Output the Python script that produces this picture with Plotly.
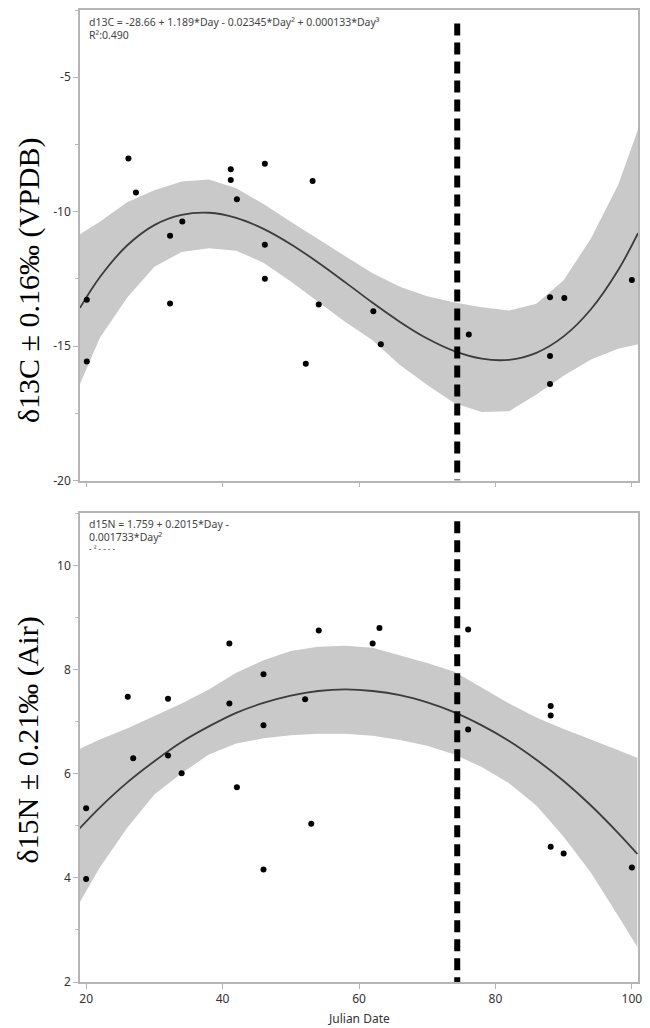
import plotly.graph_objects as go

# ---------------- data ----------------
# delta13C panel: observations
c13_day = [20.1, 20.1, 26.2, 27.3, 32.3, 32.3, 34.1, 41.2, 41.2, 42.1, 46.2, 46.2,
           46.2, 52.2, 53.2, 54.1, 62.1, 63.2, 76.1, 88.0, 90.1, 88.0, 88.0, 100.0]
c13_val = [-13.28, -15.57, -8.02, -9.29, -10.90, -13.42, -10.37, -8.42, -8.82, -9.54, -8.22, -11.23,
           -12.50, -15.66, -8.86, -13.45, -13.70, -14.93, -14.57, -13.18, -13.21, -15.37, -16.41, -12.54]

# delta13C panel: fitted curve and confidence band
c13_fit_day = [19.1, 22, 26, 30, 34, 38, 42, 46, 50, 54, 58, 62, 66, 70, 74, 78, 82, 86, 90, 94, 98, 100.9]
c13_fit = [-13.58, -12.44, -11.26, -10.50, -10.12, -10.04, -10.23, -10.64, -11.21, -11.89, -12.63,
           -13.39, -14.10, -14.72, -15.19, -15.47, -15.51, -15.25, -14.64, -13.63, -12.17, -10.80]
c13_upper = [-10.84, -10.38, -9.65, -9.20, -8.88, -8.80, -9.13, -9.72, -10.38, -11.03, -11.66,
             -12.29, -12.79, -13.15, -13.38, -13.56, -13.68, -13.43, -12.55, -11.00, -9.00, -6.94]
c13_lower = [-16.41, -14.70, -13.20, -12.05, -11.50, -11.36, -11.45, -11.90, -12.60, -13.35, -14.10,
             -14.78, -15.70, -16.45, -17.13, -17.45, -17.42, -16.80, -16.10, -15.50, -15.10, -14.93]

# delta15N panel: observations
n15_day = [20.0, 20.0, 26.1, 26.9, 32.0, 32.0, 34.0, 41.0, 41.0, 42.1, 46.0, 46.0, 46.0,
           52.1, 53.0, 54.1, 62.0, 63.0, 76.0, 76.0, 88.1, 88.1, 88.1, 90.0, 100.0]
n15_val = [5.34, 3.98, 7.48, 6.30, 7.44, 6.35, 6.01, 8.50, 7.35, 5.74, 7.91, 6.93, 4.16,
           7.43, 5.04, 8.75, 8.50, 8.80, 8.77, 6.85, 7.30, 7.12, 4.60, 4.47, 4.20]

# delta15N panel: fitted curve and confidence band
n15_fit_day = [18.9, 22, 26, 30, 34, 38, 42, 46, 50, 54, 58, 62, 66, 70, 74, 78, 82, 86, 90, 94, 98, 100.8]
n15_fit = [4.93, 5.35, 5.83, 6.24, 6.61, 6.91, 7.17, 7.36, 7.50, 7.59, 7.62, 7.59, 7.51, 7.37,
           7.18, 6.93, 6.63, 6.27, 5.86, 5.39, 4.86, 4.46]
n15_upper = [6.47, 6.66, 6.87, 7.11, 7.35, 7.62, 7.94, 8.18, 8.36, 8.44, 8.46, 8.42, 8.27, 8.13,
             7.96, 7.65, 7.35, 7.08, 6.86, 6.66, 6.45, 6.31]
n15_lower = [3.49, 4.20, 4.96, 5.60, 6.01, 6.37, 6.58, 6.68, 6.74, 6.77, 6.77, 6.73, 6.65, 6.54,
             6.37, 6.13, 5.82, 5.39, 4.79, 4.10, 3.27, 2.67]

# vertical event marker
event_day = 74.4
c13_event_top = -3.0
n15_event_top = 10.85

# axes
x_range = [19.1, 100.9]
x_ticks = [20, 40, 60, 80, 100]
c13_range = [-20, -2.5]
c13_ticks = [-20, -15, -10, -5]
c13_ticktext = ["-20", "-15", "-10", "-5"]
n15_range = [2, 11.0]
n15_ticks = [2, 4, 6, 8, 10]

c13_eq = ["d13C = -28.66 + 1.189*Day - 0.02345*Day² + 0.000133*Day³", "R²:0.490"]
n15_eq = ["d15N = 1.759 + 0.2015*Day -", "0.001733*Day²", "- ² - - - -"]

# ---------------- figure ----------------
W, H = 650, 1028
ML, MR, MT, MB = 80, 8, 9, 46
plot_h = H - MT - MB
top_dom = [(982 - 480) / plot_h, 1.0]
bot_dom = [0.0, (982 - 513) / plot_h]

band_col = "#c9c9c9"
line_col = "#3c3c3c"
frame_col = "#b5b5b5"
tick_font = dict(family="Noto Sans, Open Sans, sans-serif", size=12, color="#333333")

fig = go.Figure()

# top panel
fig.add_trace(go.Scatter(x=c13_fit_day, y=c13_lower, mode="lines", line=dict(width=0, color=band_col),
                         xaxis="x", yaxis="y", showlegend=False, hoverinfo="skip"))
fig.add_trace(go.Scatter(x=c13_fit_day, y=c13_upper, mode="lines", line=dict(width=0, color=band_col),
                         fill="tonexty", fillcolor=band_col, xaxis="x", yaxis="y",
                         showlegend=False, hoverinfo="skip"))
fig.add_trace(go.Scatter(x=c13_fit_day, y=c13_fit, mode="lines", line=dict(width=1.8, color=line_col, shape="spline"),
                         xaxis="x", yaxis="y", showlegend=False))
fig.add_trace(go.Scatter(x=c13_day, y=c13_val, mode="markers", marker=dict(size=6, color="black"),
                         xaxis="x", yaxis="y", showlegend=False))

# bottom panel
fig.add_trace(go.Scatter(x=n15_fit_day, y=n15_lower, mode="lines", line=dict(width=0, color=band_col),
                         xaxis="x2", yaxis="y2", showlegend=False, hoverinfo="skip"))
fig.add_trace(go.Scatter(x=n15_fit_day, y=n15_upper, mode="lines", line=dict(width=0, color=band_col),
                         fill="tonexty", fillcolor=band_col, xaxis="x2", yaxis="y2",
                         showlegend=False, hoverinfo="skip"))
fig.add_trace(go.Scatter(x=n15_fit_day, y=n15_fit, mode="lines", line=dict(width=1.8, color=line_col, shape="spline"),
                         xaxis="x2", yaxis="y2", showlegend=False))
fig.add_trace(go.Scatter(x=n15_day, y=n15_val, mode="markers", marker=dict(size=6, color="black"),
                         xaxis="x2", yaxis="y2", showlegend=False))

# dashed event lines
dash_style = dict(color="black", width=6, dash="12px,7px")
fig.add_shape(type="line", xref="x", yref="y", x0=event_day, x1=event_day,
              y0=c13_event_top, y1=c13_range[0], line=dash_style, layer="above")
fig.add_shape(type="line", xref="x2", yref="y2", x0=event_day, x1=event_day,
              y0=n15_event_top, y1=n15_range[0], line=dash_style, layer="above")

axis_common = dict(showline=True, mirror=True, linecolor=frame_col, linewidth=1.5,
                   showgrid=False, zeroline=False, ticks="outside", ticklen=5,
                   tickcolor=frame_col, tickwidth=1, tickfont=tick_font)

fig.update_layout(
    width=W, height=H, margin=dict(l=ML, r=MR, t=MT, b=MB),
    paper_bgcolor="white", plot_bgcolor="white", showlegend=False,
    xaxis=dict(axis_common, range=x_range, tickvals=x_ticks, showticklabels=False, anchor="y"),
    yaxis=dict(axis_common, range=c13_range, domain=top_dom, tickvals=c13_ticks, ticktext=c13_ticktext,
               anchor="x", minor=dict(ticks="outside", ticklen=3, dtick=2.5, tick0=0, tickcolor=frame_col)),
    xaxis2=dict(axis_common, range=x_range, tickvals=x_ticks, anchor="y2"),
    yaxis2=dict(axis_common, range=n15_range, domain=bot_dom, tickvals=n15_ticks, anchor="x2",
                minor=dict(ticks="outside", ticklen=3, dtick=1, tick0=0, tickcolor=frame_col)),
)

plot_w = W - ML - MR

def px_x(px):
    return (px - ML) / plot_w

def px_y(py):
    return (H - MB - py) / plot_h

eq_font = dict(family="Noto Sans, Open Sans, sans-serif", size=10.5, color="#444444")
for i, txt in enumerate(c13_eq):
    fig.add_annotation(text=txt, xref="paper", yref="paper", x=px_x(87), y=px_y(21 + 13 * i),
                       xanchor="left", yanchor="middle", showarrow=False, font=eq_font)
for i, txt in enumerate(n15_eq):
    fig.add_annotation(text=txt, xref="paper", yref="paper", x=px_x(87), y=px_y(524 + 13 * i - (2 if i == 2 else 0)),
                       xanchor="left", yanchor="middle", showarrow=False,
                       font=eq_font if i < 2 else dict(eq_font, size=8))

title_font = dict(family="Liberation Serif, Times New Roman, serif", size=30, color="black")
fig.add_annotation(text="δ13C ± 0.16‰ (VPDB)", xref="paper", yref="paper", x=px_x(28), y=px_y(279),
                   textangle=-90, showarrow=False, font=title_font, xanchor="center", yanchor="middle")
fig.add_annotation(text="δ15N ± 0.21‰ (Air)", xref="paper", yref="paper", x=px_x(28), y=px_y(740),
                   textangle=-90, showarrow=False, font=title_font, xanchor="center", yanchor="middle")
fig.add_annotation(text="Julian Date", xref="paper", yref="paper", x=px_x(361), y=px_y(1019),
                   showarrow=False, font=dict(tick_font, size=12), xanchor="center", yanchor="middle")

fig.write_html("out.html")
